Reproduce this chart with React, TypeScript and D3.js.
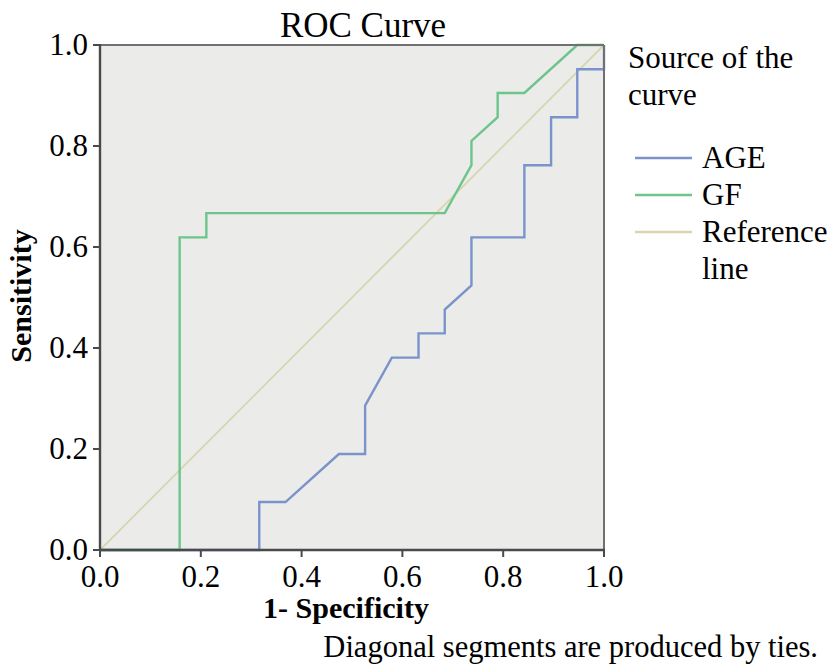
import React from "react";
import * as d3 from "d3";

const ageFpr = [0, 0.316, 0.316, 0.368, 0.474, 0.526, 0.526, 0.579, 0.632, 0.632, 0.684, 0.684, 0.737, 0.737, 0.842, 0.842, 0.895, 0.895, 0.947, 0.947, 1, 1];
const ageTpr = [0, 0, 0.095, 0.095, 0.19, 0.19, 0.286, 0.381, 0.381, 0.429, 0.429, 0.476, 0.524, 0.619, 0.619, 0.762, 0.762, 0.857, 0.857, 0.952, 0.952, 1];
const gfFpr = [0, 0.158, 0.158, 0.211, 0.211, 0.684, 0.737, 0.737, 0.789, 0.789, 0.842, 0.947, 1];
const gfTpr = [0, 0, 0.619, 0.619, 0.667, 0.667, 0.762, 0.81, 0.857, 0.905, 0.905, 1, 1];
const refLine = [0, 1];
const ticks = [0, 0.2, 0.4, 0.6, 0.8, 1.0];
const seriesNames = ["AGE", "GF", "Reference"];
const colors = ["#7b93cb", "#6cc58b", "#d8d6ae"];

export default function App() {
  const L = 100, R = 604, T = 45, B = 550;
  const x = d3.scaleLinear().domain([0, 1]).range([L, R]);
  const y = d3.scaleLinear().domain([0, 1]).range([B, T]);
  const line = d3.line<[number, number]>().x((d) => x(d[0])).y((d) => y(d[1]));
  const agePts = ageFpr.map((v, i) => [v, ageTpr[i]] as [number, number]);
  const gfPts = gfFpr.map((v, i) => [v, gfTpr[i]] as [number, number]);
  const refPts = refLine.map((v) => [v, v] as [number, number]);
  const font = '"Liberation Serif", "Times New Roman", serif';
  return (
    <svg width={831} height={664} style={{ position: "absolute", left: 0, top: 0, background: "#fff", fontFamily: font }}>
      <rect x={L} y={T} width={R - L} height={B - T} fill="#ebebea" />
      <path d={line(refPts) || ""} fill="none" stroke={colors[2]} strokeWidth={1.8} />
      <path d={line(agePts) || ""} fill="none" stroke={colors[0]} strokeWidth={2.4} />
      <path d={line(gfPts) || ""} fill="none" stroke={colors[1]} strokeWidth={2.4} />
      <line x1={L} x2={R} y1={T} y2={T} stroke="#707070" strokeWidth={2} />
      <line x1={R} x2={R} y1={T} y2={B} stroke="#707070" strokeWidth={2} />
      <line x1={L} x2={L} y1={T - 1} y2={B + 1} stroke="#4a4a4a" strokeWidth={2.4} />
      <line x1={L - 1} x2={R + 1} y1={B} y2={B} stroke="#4a4a4a" strokeWidth={2.4} />
      {ticks.map((t) => (
        <g key={"y" + t}>
          <line x1={L - 7} x2={L} y1={y(t)} y2={y(t)} stroke="#4a4a4a" strokeWidth={2} />
          <text x={L - 12} y={y(t) + 10} textAnchor="end" fontSize={31}>{t.toFixed(1)}</text>
        </g>
      ))}
      {ticks.map((t) => (
        <g key={"x" + t}>
          <line x1={x(t)} x2={x(t)} y1={B} y2={B + 7} stroke="#4a4a4a" strokeWidth={2} />
          <text x={x(t)} y={587} textAnchor="middle" fontSize={31}>{t.toFixed(1)}</text>
        </g>
      ))}
      <text x={363} y={37} textAnchor="middle" fontSize={35}>ROC Curve</text>
      <text x={346} y={618} textAnchor="middle" fontSize={30} fontWeight="bold">1- Specificity</text>
      <text transform="translate(31,296) rotate(-90)" textAnchor="middle" fontSize={30} fontWeight="bold">Sensitivity</text>
      <text x={818} y={657} textAnchor="end" fontSize={30.5}>Diagonal segments are produced by ties.</text>
      <text x={628} y={68} fontSize={31}>Source of the</text>
      <text x={628} y={105} fontSize={31}>curve</text>
      {seriesNames.map((n, i) => (
        <g key={n}>
          <line x1={635} x2={692} y1={158 + i * 37} y2={158 + i * 37} stroke={colors[i]} strokeWidth={2.4} />
          <text x={702} y={168 + i * 37} fontSize={31}>{n}</text>
        </g>
      ))}
      <text x={702} y={279} fontSize={31}>line</text>
    </svg>
  );
}
